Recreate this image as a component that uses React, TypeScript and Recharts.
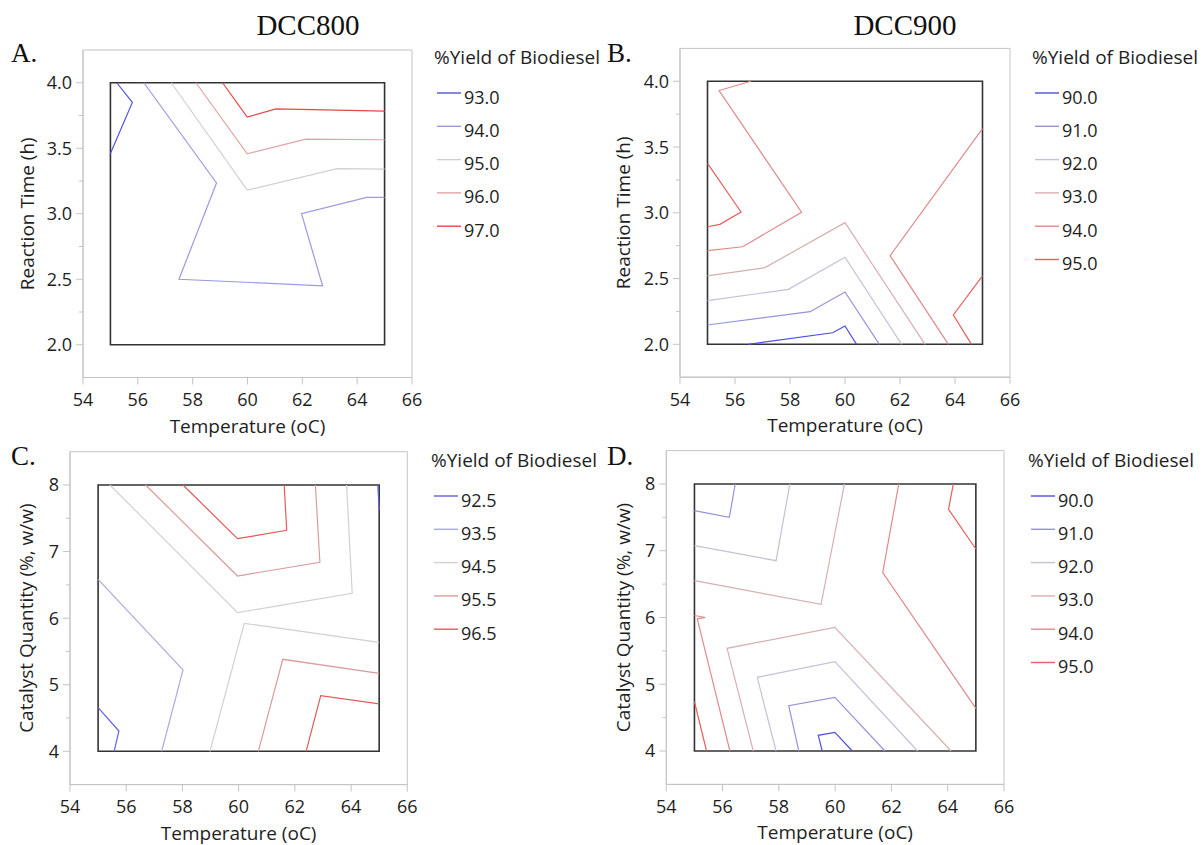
import { LineChart, Line, XAxis, YAxis, ReferenceArea, Label } from 'recharts'

type Pt = { x: number; y: number }
type Seg = { level: number; pts: Pt[] }

const p = (x: number, y: number): Pt => ({ x, y })

// axis ticks
const tempTicks = [54, 56, 58, 60, 62, 64, 66]
const timeTicks = [2.0, 2.25, 2.5, 2.75, 3.0, 3.25, 3.5, 3.75, 4.0]
const timeMajor = [2.0, 2.5, 3.0, 3.5, 4.0]
const catTicks = [4, 4.5, 5, 5.5, 6, 6.5, 7, 7.5, 8]
const catMajor = [4, 5, 6, 7, 8]

// contour levels (% yield of biodiesel)
const levelsA = [93.0, 94.0, 95.0, 96.0, 97.0]
const levelsB = [90.0, 91.0, 92.0, 93.0, 94.0, 95.0]
const levelsC = [92.5, 93.5, 94.5, 95.5, 96.5]
const levelsD = [90.0, 91.0, 92.0, 93.0, 94.0, 95.0]

// A. DCC800, temperature vs reaction time
const contoursA: Seg[] = [
  { level: 93.0, pts: [p(55.23, 4.0), p(55.8, 3.85), p(55.0, 3.46)] },
  { level: 94.0, pts: [p(56.22, 4.0), p(58.87, 3.235), p(57.5, 2.5), p(62.74, 2.45), p(61.97, 3.0), p(64.35, 3.125), p(65.0, 3.125)] },
  { level: 95.0, pts: [p(57.22, 4.0), p(59.99, 3.18), p(63.27, 3.345), p(65.0, 3.34)] },
  { level: 96.0, pts: [p(58.12, 4.0), p(59.99, 3.458), p(62.13, 3.57), p(65.0, 3.565)] },
  { level: 97.0, pts: [p(59.09, 4.0), p(59.99, 3.738), p(61.04, 3.8), p(65.0, 3.784)] },
]

// B. DCC900, temperature vs reaction time
const contoursB: Seg[] = [
  { level: 90.0, pts: [p(56.48, 2.0), p(59.55, 2.088), p(60.0, 2.139), p(60.42, 2.0)] },
  { level: 91.0, pts: [p(55.0, 2.147), p(58.73, 2.248), p(60.0, 2.398), p(61.25, 2.0)] },
  { level: 92.0, pts: [p(55.0, 2.332), p(57.94, 2.418), p(60.0, 2.662), p(62.06, 2.0)] },
  { level: 93.0, pts: [p(55.0, 2.52), p(57.09, 2.583), p(60.0, 2.925), p(62.91, 2.0)] },
  { level: 94.0, pts: [p(56.58, 4.0), p(55.42, 3.93), p(58.42, 3.004), p(56.28, 2.742), p(55.0, 2.712)] },
  { level: 94.0, pts: [p(65.0, 3.64), p(61.64, 2.674), p(63.76, 2.0)] },
  { level: 95.0, pts: [p(55.0, 3.376), p(56.22, 3.006), p(55.45, 2.912), p(55.0, 2.894)] },
  { level: 95.0, pts: [p(65.0, 2.52), p(63.94, 2.223), p(64.6, 2.0)] },
]

// C. DCC800, temperature vs catalyst quantity
const contoursC: Seg[] = [
  { level: 92.5, pts: [p(55.0, 4.656), p(55.74, 4.305), p(55.57, 4.0)] },
  { level: 92.5, pts: [p(64.95, 8.0), p(65.0, 7.62)] },
  { level: 93.5, pts: [p(55.0, 6.583), p(58.02, 5.222), p(57.26, 4.0)] },
  { level: 94.5, pts: [p(55.42, 8.0), p(59.96, 6.083), p(64.04, 6.373), p(63.84, 8.0)] },
  { level: 94.5, pts: [p(58.98, 4.0), p(60.2, 5.922), p(65.0, 5.637)] },
  { level: 95.5, pts: [p(56.69, 8.0), p(59.96, 6.633), p(62.89, 6.839), p(62.73, 8.0)] },
  { level: 95.5, pts: [p(60.7, 4.0), p(61.57, 5.382), p(65.0, 5.171)] },
  { level: 96.5, pts: [p(58.02, 8.0), p(59.96, 7.194), p(61.71, 7.319), p(61.62, 8.0)] },
  { level: 96.5, pts: [p(62.4, 4.0), p(62.92, 4.836), p(65.0, 4.711)] },
]

// D. DCC900, temperature vs catalyst quantity
const contoursD: Seg[] = [
  { level: 90.0, pts: [p(59.54, 4.0), p(59.4, 4.235), p(59.99, 4.28), p(60.61, 4.0)] },
  { level: 91.0, pts: [p(56.45, 8.0), p(56.24, 7.5), p(55.0, 7.6)] },
  { level: 91.0, pts: [p(58.71, 4.0), p(58.35, 4.679), p(59.99, 4.804), p(61.77, 4.0)] },
  { level: 92.0, pts: [p(58.39, 8.0), p(57.9, 6.851), p(55.0, 7.076)] },
  { level: 92.0, pts: [p(57.9, 4.0), p(57.23, 5.104), p(59.99, 5.338), p(62.93, 4.0)] },
  { level: 93.0, pts: [p(60.33, 8.0), p(59.5, 6.197), p(55.0, 6.552)] },
  { level: 93.0, pts: [p(57.09, 4.0), p(56.16, 5.538), p(59.99, 5.853), p(64.12, 4.0)] },
  { level: 94.0, pts: [p(55.0, 6.03), p(55.38, 6.0), p(55.1, 5.98), p(56.26, 4.0)] },
  { level: 94.0, pts: [p(62.26, 8.0), p(61.69, 6.672), p(65.0, 4.639)] },
  { level: 95.0, pts: [p(55.0, 4.74), p(55.43, 4.0)] },
  { level: 95.0, pts: [p(64.2, 8.0), p(64.03, 7.62), p(65.0, 7.026)] },
]

const colorsA = ['#5252dc', '#9a9ae0', '#d0d0d0', '#e0a4a4', '#e44848']
const colorsB = ['#4e4ee4', '#9494dc', '#c2c2d6', '#d6b0b0', '#e08a8a', '#e65e5e']
const colorsC = ['#6262e0', '#aaaadc', '#d0d0d0', '#d89c9c', '#e25a5a']

const FONT = "'Segoe UI', 'Open Sans', sans-serif"
const SERIF = "'Times New Roman', 'Liberation Serif', serif"
const TXT = '#1e1e1e'
const AXIS = '#c4c4c4'

function YTick(props: any) {
  const { x, y, payload, majors, digits } = props
  const v = payload.value
  const major = majors.includes(v)
  const axisX = x + 4 + 7
  return (
    <g>
      <line x1={axisX - (major ? 7 : 4)} x2={axisX} y1={y} y2={y} stroke={AXIS} />
      {major && (
        <text x={axisX - 11} y={y} dy="0.36em" textAnchor="end" fill={TXT} fontSize={18} fontFamily={FONT}>
          {v.toFixed(digits)}
        </text>
      )}
    </g>
  )
}

interface PanelProps {
  left: number
  top: number
  plot: number[]
  yDomain: number[]
  yTicks: number[]
  yMajor: number[]
  digits: number
  yLabel: string
  yLabelGap: number
  segs: Seg[]
  levels: number[]
  colors: string[]
}

function ContourPanel({ left, top, plot, yDomain, yTicks, yMajor, digits, yLabel, yLabelGap, segs, levels, colors }: PanelProps) {
  const [pl, pt, pr, pb] = plot
  const width = pr - left + 22
  const height = pb - top + 70
  const margin = { top: pt - top, right: 22, left: pl - left - 50, bottom: 10 }
  const bottomY = yMajor[0]
  const topY = yMajor[yMajor.length - 1]
  return (
    <div style={{ position: 'absolute', left, top, width, height }}>
      <LineChart width={width} height={height} margin={margin}>
        <XAxis
          type="number"
          dataKey="x"
          domain={[54, 66]}
          ticks={tempTicks}
          interval={0}
          allowDataOverflow
          height={60}
          tickSize={7}
          tickMargin={9}
          stroke={AXIS}
          tick={{ fill: TXT, fontSize: 18, fontFamily: FONT }}
        >
          <Label
            content={(lp: any) => {
              const vb = lp.viewBox
              return (
                <text x={vb.x + vb.width / 2} y={vb.y + 55} textAnchor="middle" fill={TXT} fontSize={19} fontFamily={FONT}>
                  Temperature (oC)
                </text>
              )
            }}
          />
        </XAxis>
        <YAxis
          type="number"
          domain={yDomain}
          ticks={yTicks}
          interval={0}
          allowDataOverflow
          width={50}
          tickSize={7}
          tickMargin={4}
          tickLine={false}
          stroke={AXIS}
          tick={(tp: any) => <YTick {...tp} majors={yMajor} digits={digits} />}
        >
          <Label
            content={(lp: any) => {
              const vb = lp.viewBox
              const cx = vb.x + vb.width - yLabelGap
              const cy = vb.y + vb.height / 2
              return (
                <text
                  x={cx}
                  y={cy}
                  transform={`rotate(-90, ${cx}, ${cy})`}
                  textAnchor="middle"
                  dominantBaseline="central"
                  fill={TXT}
                  fontSize={19}
                  fontFamily={FONT}
                >
                  {yLabel}
                </text>
              )
            }}
          />
        </YAxis>
        <ReferenceArea x1={54} x2={66} y1={yDomain[0]} y2={yDomain[1]} fill="none" stroke={AXIS} strokeWidth={1} />
        {segs.map((s, i) => (
          <Line
            key={i}
            data={s.pts}
            dataKey="y"
            type="linear"
            dot={false}
            activeDot={false}
            stroke={colors[levels.indexOf(s.level)]}
            strokeWidth={1.2}
            isAnimationActive={false}
          />
        ))}
        <ReferenceArea x1={55} x2={65} y1={bottomY} y2={topY} fill="none" stroke="#333" strokeWidth={1.6} />
      </LineChart>
    </div>
  )
}

function LegendBlock({ x, y, levels, colors, digits }: { x: number; y: number; levels: number[]; colors: string[]; digits: number }) {
  return (
    <g>
      <text x={x} y={y + 6.5} fill={TXT} fontSize={19} fontFamily={FONT}>
        %Yield of Biodiesel
      </text>
      {levels.map((lv, i) => (
        <g key={lv}>
          <line x1={x + 3} x2={x + 27} y1={y + 36 + i * 33.3} y2={y + 36 + i * 33.3} stroke={colors[i]} strokeWidth={1.4} />
          <text x={x + 30} y={y + 46.5 + i * 33.3} fill={TXT} fontSize={18} fontFamily={FONT}>
            {lv.toFixed(digits)}
          </text>
        </g>
      ))}
    </g>
  )
}

export default function App() {
  return (
    <div style={{ position: 'absolute', left: 0, top: 0, width: 1203, height: 845, overflow: 'hidden', background: '#fff' }}>
      <ContourPanel
        left={0}
        top={0}
        plot={[83, 50, 412, 377.5]}
        yDomain={[1.75, 4.25]}
        yTicks={timeTicks}
        yMajor={timeMajor}
        digits={1}
        yLabel="Reaction Time (h)"
        yLabelGap={56}
        segs={contoursA}
        levels={levelsA}
        colors={colorsA}
      />
      <ContourPanel
        left={597}
        top={0}
        plot={[680, 48.4, 1010, 377.2]}
        yDomain={[1.75, 4.25]}
        yTicks={timeTicks}
        yMajor={timeMajor}
        digits={1}
        yLabel="Reaction Time (h)"
        yLabelGap={56.5}
        segs={contoursB}
        levels={levelsB}
        colors={colorsB}
      />
      <ContourPanel
        left={0}
        top={402}
        plot={[70, 451.7, 407.3, 784.6]}
        yDomain={[3.5, 8.5]}
        yTicks={catTicks}
        yMajor={catMajor}
        digits={0}
        yLabel="Catalyst Quantity (%, w/w)"
        yLabelGap={43.5}
        segs={contoursC}
        levels={levelsC}
        colors={colorsC}
      />
      <ContourPanel
        left={597}
        top={402}
        plot={[666.3, 450.6, 1004, 784.4]}
        yDomain={[3.5, 8.5]}
        yTicks={catTicks}
        yMajor={catMajor}
        digits={0}
        yLabel="Catalyst Quantity (%, w/w)"
        yLabelGap={43}
        segs={contoursD}
        levels={levelsD}
        colors={colorsB}
      />
      <svg width={1203} height={845} style={{ position: 'absolute', left: 0, top: 0, pointerEvents: 'none' }}>
        <text x={308} y={35} textAnchor="middle" fontSize={29} fontFamily={SERIF} fill="#111">DCC800</text>
        <text x={905} y={35} textAnchor="middle" fontSize={29} fontFamily={SERIF} fill="#111">DCC900</text>
        <text x={11} y={62} fontSize={27} fontFamily={SERIF} fill="#111">A.</text>
        <text x={607} y={62} fontSize={27} fontFamily={SERIF} fill="#111">B.</text>
        <text x={11} y={465} fontSize={27} fontFamily={SERIF} fill="#111">C.</text>
        <text x={607} y={465} fontSize={27} fontFamily={SERIF} fill="#111">D.</text>
        <LegendBlock x={434} y={57} levels={levelsA} colors={colorsA} digits={1} />
        <LegendBlock x={1032} y={57} levels={levelsB} colors={colorsB} digits={1} />
        <LegendBlock x={431} y={460} levels={levelsC} colors={colorsC} digits={1} />
        <LegendBlock x={1028} y={460} levels={levelsD} colors={colorsB} digits={1} />
      </svg>
    </div>
  )
}
